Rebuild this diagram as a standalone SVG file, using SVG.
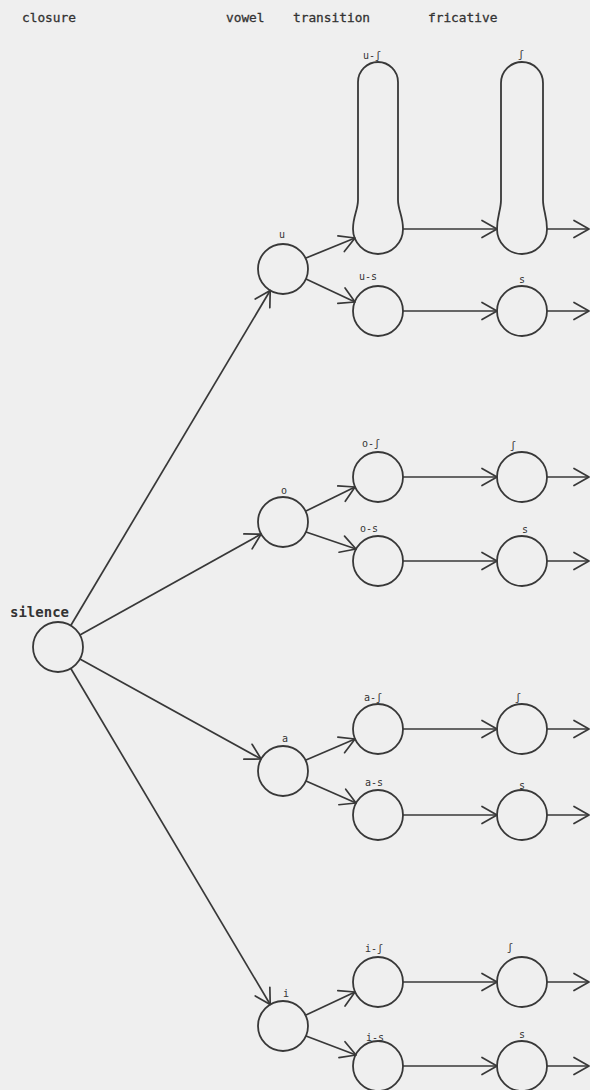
<svg xmlns="http://www.w3.org/2000/svg" width="590" height="1090" viewBox="0 0 590 1090">
<defs>
<marker id="arr" markerUnits="userSpaceOnUse" viewBox="-17 -11 19 22" refX="0" refY="0" markerWidth="19" markerHeight="22" orient="auto" overflow="visible">
<path d="M-15,-8.5 L0,0 L-15,8.5" fill="none" stroke="#383838" stroke-width="1.7" stroke-linecap="round" stroke-linejoin="round"/>
</marker>
<style>
.n{fill:none;stroke:#383838;stroke-width:1.8}
.c line{stroke:#383838;stroke-width:1.7;marker-end:url(#arr)}
.h{font-family:"DejaVu Sans Mono","Liberation Mono",monospace;font-size:12.8px;fill:#333;stroke:#333;stroke-width:0.3}
.l{font-family:"DejaVu Sans Mono","Liberation Mono",monospace;font-size:10px;fill:#333;text-anchor:middle}
</style>
</defs>
<rect x="0" y="0" width="590" height="1090" fill="#efefef"/>
<g id="headers">
<text class="h" x="22" y="22">closure</text>
<text class="h" x="226" y="22">vowel</text>
<text class="h" x="293" y="22">transition</text>
<text class="h" x="428" y="22">fricative</text>
</g>
<g id="connectors" class="c">
<line x1="70.8" y1="625.5" x2="270.2" y2="290.5"/>
<line x1="79.9" y1="634.9" x2="261.1" y2="534.1"/>
<line x1="79.9" y1="659.1" x2="261.1" y2="759"/>
<line x1="70.8" y1="668.5" x2="270.2" y2="1004.5"/>
<line x1="306" y1="258" x2="355" y2="238"/>
<line x1="306" y1="279" x2="355" y2="302"/>
<line x1="306" y1="511" x2="355" y2="487"/>
<line x1="306" y1="532" x2="356" y2="549"/>
<line x1="306" y1="760" x2="355" y2="739"/>
<line x1="306" y1="781" x2="356" y2="803"/>
<line x1="306" y1="1015" x2="355" y2="992"/>
<line x1="306" y1="1036" x2="356" y2="1055"/>
<line x1="403" y1="229" x2="497" y2="229"/>
<line x1="547" y1="229" x2="589" y2="229"/>
<line x1="403" y1="311" x2="497" y2="311"/>
<line x1="547" y1="311" x2="589" y2="311"/>
<line x1="403" y1="477" x2="497" y2="477"/>
<line x1="547" y1="477" x2="589" y2="477"/>
<line x1="403" y1="561" x2="497" y2="561"/>
<line x1="547" y1="561" x2="589" y2="561"/>
<line x1="403" y1="729" x2="497" y2="729"/>
<line x1="547" y1="729" x2="589" y2="729"/>
<line x1="403" y1="815" x2="497" y2="815"/>
<line x1="547" y1="815" x2="589" y2="815"/>
<line x1="403" y1="982" x2="497" y2="982"/>
<line x1="547" y1="982" x2="589" y2="982"/>
<line x1="403" y1="1066" x2="497" y2="1066"/>
<line x1="547" y1="1066" x2="589" y2="1066"/>
</g>
<g id="silence">
<circle class="n" cx="58" cy="647" r="25"/>
<text x="10" y="617" font-family="DejaVu Sans Mono, Liberation Mono, monospace" font-size="14px" font-weight="bold" fill="#333">silence</text>
</g>
<g id="u">
<circle class="n" cx="283" cy="269" r="25"/>
<text class="l" x="282" y="238">u</text>
</g>
<g id="u-sh">
<path class="n" d="M358,200 L358,82 A20,20 0 0 1 398,82 L398,200 C398,210 403,216 403,229 A25,25 0 0 1 353,229 C353,216 358,210 358,200 Z"/>
<text class="l" x="372" y="59">u-ʃ</text>
</g>
<g id="u-sh-fric">
<path class="n" d="M501,200 L501,83 A21,21 0 0 1 543,83 L543,200 C543,210 547,216 547,229 A25,25 0 0 1 497,229 C497,216 501,210 501,200 Z"/>
<text class="l" x="521" y="58">ʃ</text>
</g>
<g id="u-s">
<circle class="n" cx="378" cy="311" r="25"/>
<text class="l" x="368" y="280">u-s</text>
</g>
<g id="u-s-fric">
<circle class="n" cx="522" cy="311" r="25"/>
<text class="l" x="522" y="283">s</text>
</g>
<g id="o">
<circle class="n" cx="283" cy="522" r="25"/>
<text class="l" x="284" y="494">o</text>
</g>
<g id="o-sh">
<circle class="n" cx="378" cy="477" r="25"/>
<text class="l" x="371" y="447">o-ʃ</text>
</g>
<g id="o-sh-fric">
<circle class="n" cx="522" cy="477" r="25"/>
<text class="l" x="513" y="449">ʃ</text>
</g>
<g id="o-s">
<circle class="n" cx="378" cy="561" r="25"/>
<text class="l" x="369" y="532">o-s</text>
</g>
<g id="o-s-fric">
<circle class="n" cx="522" cy="561" r="25"/>
<text class="l" x="525" y="533">s</text>
</g>
<g id="a">
<circle class="n" cx="283" cy="771" r="25"/>
<text class="l" x="285" y="742">a</text>
</g>
<g id="a-sh">
<circle class="n" cx="378" cy="729" r="25"/>
<text class="l" x="373" y="701">a-ʃ</text>
</g>
<g id="a-sh-fric">
<circle class="n" cx="522" cy="729" r="25"/>
<text class="l" x="518" y="701">ʃ</text>
</g>
<g id="a-s">
<circle class="n" cx="378" cy="815" r="25"/>
<text class="l" x="374" y="786">a-s</text>
</g>
<g id="a-s-fric">
<circle class="n" cx="522" cy="815" r="25"/>
<text class="l" x="522" y="789">s</text>
</g>
<g id="i">
<circle class="n" cx="283" cy="1026" r="25"/>
<text class="l" x="286" y="997">i</text>
</g>
<g id="i-sh">
<circle class="n" cx="378" cy="982" r="25"/>
<text class="l" x="374" y="952">i-ʃ</text>
</g>
<g id="i-sh-fric">
<circle class="n" cx="522" cy="982" r="25"/>
<text class="l" x="510" y="951">ʃ</text>
</g>
<g id="i-s">
<circle class="n" cx="378" cy="1066" r="25"/>
<text class="l" x="375" y="1041">i-s</text>
</g>
<g id="i-s-fric">
<circle class="n" cx="522" cy="1066" r="25"/>
<text class="l" x="522" y="1038">s</text>
</g>
</svg>
